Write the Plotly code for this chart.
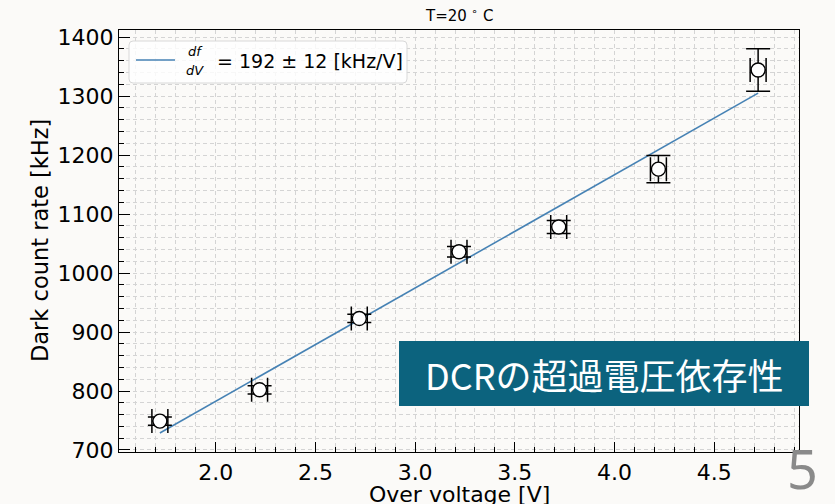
import plotly.graph_objects as go

# ---- data ----
over_voltage = [1.72, 2.22, 2.72, 3.22, 3.72, 4.22, 4.72]
over_voltage_err = [0.04, 0.04, 0.04, 0.04, 0.04, 0.04, 0.04]
dark_count_rate = [749, 802, 923, 1036, 1078, 1176, 1344]
dark_count_rate_err = [7, 7, 7, 9, 11, 23, 36]
fit_slope = 192.0
fit_slope_err = 12
fit_intercept = 398.6
x_ticks = [2.0, 2.5, 3.0, 3.5, 4.0, 4.5]
y_ticks = [700, 800, 900, 1000, 1100, 1200, 1300, 1400]

# ---- geometry (pixels) ----
FW, FH = 835, 504
L, R, T, B = 119, 799, 30, 452
W, H = R - L, B - T


def px(x):
    return (x - L) / W


def py(y):
    return (B - y) / H


fit_x = [over_voltage[0], over_voltage[-1]]
fit_y = [fit_slope * v + fit_intercept for v in fit_x]

BG = "#fbfaf8"
FONT = "DejaVu Sans"

fig = go.Figure()
fig.add_trace(go.Scatter(
    x=fit_x, y=fit_y, mode="lines",
    line=dict(color="#4682b4", width=1.6),
    showlegend=False, hoverinfo="skip",
))
fig.add_trace(go.Scatter(
    x=over_voltage, y=dark_count_rate, mode="markers",
    marker=dict(symbol="circle", size=14, color="white",
                line=dict(color="black", width=1.4)),
    error_x=dict(type="data", array=over_voltage_err, visible=True,
                 color="black", thickness=1.5, width=12),
    error_y=dict(type="data", array=dark_count_rate_err, visible=True,
                 color="black", thickness=1.5, width=12),
    showlegend=False,
))

grid = dict(showgrid=True, gridcolor="#d4d4d4", gridwidth=0.8, griddash="4px,3px")

fig.update_xaxes(
    range=[1.515, 4.925], tickvals=x_ticks, ticktext=[f"{v:.1f}" for v in x_ticks],
    ticks="inside", ticklen=10, tickwidth=1.3, tickcolor="black",
    showline=True, linecolor="black", linewidth=1.3, mirror=True,
    tickfont=dict(family=FONT, size=22, color="black"),
    zeroline=False, **grid,
    minor=dict(dtick=0.1, tick0=0, ticks="inside", ticklen=5, tickwidth=1.1,
               tickcolor="black", **grid),
)
fig.update_yaxes(
    range=[696.6, 1411.9], tickvals=y_ticks,
    ticks="inside", ticklen=11, tickwidth=1.3, tickcolor="black",
    showline=True, linecolor="black", linewidth=1.3, mirror=True,
    tickfont=dict(family=FONT, size=22, color="black"),
    zeroline=False, **grid,
    minor=dict(dtick=20, tick0=0, ticks="inside", ticklen=5, tickwidth=1.1,
               tickcolor="black", **grid),
)

# legend box (manual)
lx0, ly0, lx1, ly1, rr = 129, 41, 407, 83, 4
path = (f"M {px(lx0+rr)},{py(ly0)} L {px(lx1-rr)},{py(ly0)} "
        f"Q {px(lx1)},{py(ly0)} {px(lx1)},{py(ly0+rr)} "
        f"L {px(lx1)},{py(ly1-rr)} Q {px(lx1)},{py(ly1)} {px(lx1-rr)},{py(ly1)} "
        f"L {px(lx0+rr)},{py(ly1)} Q {px(lx0)},{py(ly1)} {px(lx0)},{py(ly1-rr)} "
        f"L {px(lx0)},{py(ly0+rr)} Q {px(lx0)},{py(ly0)} {px(lx0+rr)},{py(ly0)} Z")
shapes = [
    dict(type="path", xref="paper", yref="paper", path=path,
         fillcolor="rgba(255,255,255,0.8)", line=dict(color="#d8d8d8", width=1)),
    dict(type="line", xref="paper", yref="paper",
         x0=px(136), x1=px(175), y0=py(60), y1=py(60),
         line=dict(color="#4682b4", width=1.6)),
    # slide title banner
    dict(type="rect", xref="paper", yref="paper",
         x0=px(399), x1=px(809), y0=py(341), y1=py(406),
         fillcolor="#0c637e", line=dict(width=0)),
]

annotations = [
    dict(text="T=20 <sup>∘</sup> C", x=px(459), y=py(15), font=dict(family=FONT, size=15, color="black")),
    dict(text="Over voltage [V]", x=px(459), y=py(495), font=dict(family=FONT, size=22, color="black")),
    dict(text="Dark count rate [kHz]", x=px(40), y=py(241), textangle=-90,
         font=dict(family=FONT, size=22.5, color="black")),
    dict(text="<i>df</i>", x=px(195), y=py(52), font=dict(family=FONT, size=13, color="black")),
    dict(text="<i>dV</i>", x=px(195), y=py(70), font=dict(family=FONT, size=13, color="black")),
    dict(text=f"= {fit_slope:.0f} ± {fit_slope_err} [kHz/V]", x=px(215), y=py(61), xanchor="left",
         font=dict(family=FONT, size=19, color="black")),
    dict(text="DCRの超過電圧依存性", x=px(604), y=py(374),
         font=dict(family="Noto Sans CJK JP", size=36, color="white")),
    dict(text="5", x=px(802), y=py(468), font=dict(family="Noto Sans", size=54, color="#8a8a8a")),
]
for a in annotations:
    a.setdefault("xref", "paper")
    a.setdefault("yref", "paper")
    a.setdefault("showarrow", False)
    a.setdefault("xanchor", "center")
    a.setdefault("yanchor", "middle")

fig.update_layout(
    width=FW, height=FH,
    margin=dict(l=L, r=FW - R, t=T, b=FH - B, pad=0),
    paper_bgcolor=BG, plot_bgcolor=BG,
    shapes=shapes, annotations=annotations,
    showlegend=False,
)

fig.write_html("out.html", config={"displayModeBar": False})
